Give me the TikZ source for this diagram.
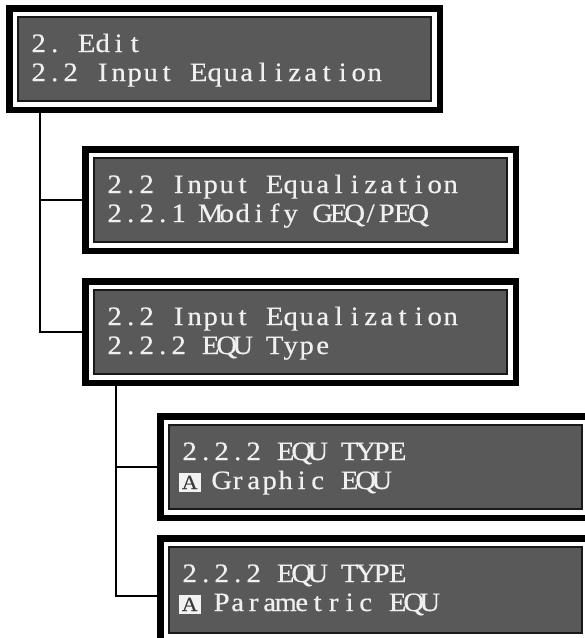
\documentclass[tikz,border=0pt]{standalone}
\usepackage{fontspec}
\setmainfont{Liberation Serif}
% slightly widened and heavier face for the display text
\newfontfamily\lcdfont{Liberation Serif}[FakeStretch=1.08, FakeBold=0.6]

\definecolor{lcdbg}{HTML}{595959}
\definecolor{lcdtext}{HTML}{F0F0F0}
\definecolor{lcdhi}{HTML}{F2F2F2}
\definecolor{lcdhitext}{HTML}{3A3A3A}

% every character of an LCD line sits in a fixed-width cell
\newlength\lcdcell
\setlength\lcdcell{16pt}
\ExplSyntaxOn
\NewDocumentCommand\lcd{m}{ \str_map_inline:nn {#1} { \makebox[\lcdcell][c]{##1} } }
\ExplSyntaxOff
% highlighted (cursor) character
\newcommand\lcdhl[1]{\makebox[\lcdcell][c]{\setlength\fboxsep{3.2pt}\colorbox{lcdhi}{\textcolor{lcdhitext}{\fontsize{20pt}{20pt}\selectfont #1}}}}

\tikzset{
  frame/.style={rectangle, draw=black, fill=white, line width=6.5pt,
    inner sep=0pt, minimum width=430.5pt, minimum height=101.5pt},
  screen/.style={rectangle, draw=black!90, fill=lcdbg, line width=1.5pt,
    inner sep=0pt, minimum width=413pt, minimum height=84pt},
  lcdline/.style={anchor=base west, inner sep=0pt, text=lcdtext,
    font=\lcdfont\fontsize{26.5pt}{28pt}\selectfont},
  wire/.style={draw=black, line width=2pt},
}

% one menu screen: frame, display and its two text lines
\newcommand\menubox[5][108]{%
  \node[frame, minimum height=#1pt-6.5pt] (#2) at (#3) {};
  \node[screen, minimum height=#1pt-24pt] (#2in) at (#2.center) {};
  \node[lcdline] (#2a) at ([xshift=24.5pt,yshift=-47pt]#2.north west) {#4};
  \node[lcdline] (#2b) at ([xshift=24.5pt,yshift=-76pt]#2.north west) {#5};
}

\begin{document}
\begin{tikzpicture}[x=1pt,y=-1pt]
  \useasboundingbox (0,0) rectangle (585,638);
  \fill[white] (0,0) rectangle (585,638);
  \clip (0,0) rectangle (585,638);

  \menubox{m1}{224.5,59}{\lcd{2. Edit}}{\lcd{2.2 Input Equalization}}
  \menubox{m2}{300.5,200}{\lcd{2.2 Input Equalization}}{\lcd{2.2.1 Modify GEQ/PEQ}}
  \menubox{m3}{300.5,332}{\lcd{2.2 Input Equalization}}{\lcd{2.2.2 EQU Type}}
  \menubox{m4}{375.5,467}{\lcd{2.2.2 EQU TYPE}}{\lcdhl{A}\hspace{\lcdcell}\lcd{Graphic EQU}}
  \menubox[110]{m5}{375.5,590}{\lcd{2.2.2 EQU TYPE}}{\lcdhl{A}\hspace{\lcdcell}\lcd{Parametric EQU}}

  % menu tree connectors
  \coordinate (t1) at ([xshift=33.5pt]m1.south west);
  \draw[wire] (t1) |- (m2.west);
  \draw[wire] (t1) |- (m3.west);
  \coordinate (t2) at ([xshift=34pt]m3.south west);
  \coordinate (m5w) at ([yshift=-6pt]m5.west);
  \draw[wire] (t2) |- (m4.west);
  \draw[wire] (t2) |- (m5w);
\end{tikzpicture}
\end{document}
